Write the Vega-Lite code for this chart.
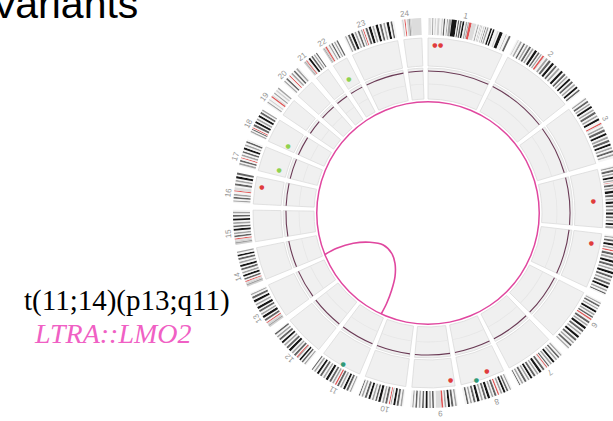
{
"$schema":"https://vega.github.io/schema/vega-lite/v6.json",
"width":613,"height":421,"autosize":{"type":"none"},"padding":0,"background":"white",
"config":{"view":{"stroke":null}},
"datasets":{
"chroms":[
{"chr":"1","s":0,"e":249,"m":124.5},{"chr":"2","s":269,"e":512,"m":390.5},{"chr":"3","s":532,"e":730,"m":631},{"chr":"4","s":750,"e":941,"m":845.5},{"chr":"5","s":961,"e":1142,"m":1051.5},{"chr":"6","s":1162,"e":1333,"m":1247.5},{"chr":"7","s":1353,"e":1512,"m":1432.5},{"chr":"8","s":1532,"e":1678,"m":1605},{"chr":"9","s":1698,"e":1839,"m":1768.5},{"chr":"10","s":1859,"e":1995,"m":1927},{"chr":"11","s":2015,"e":2150,"m":2082.5},{"chr":"12","s":2170,"e":2304,"m":2237},{"chr":"13","s":2324,"e":2439,"m":2381.5},{"chr":"14","s":2459,"e":2566,"m":2512.5},{"chr":"15","s":2586,"e":2689,"m":2637.5},{"chr":"16","s":2709,"e":2799,"m":2754},{"chr":"17","s":2819,"e":2900,"m":2859.5},{"chr":"18","s":2920,"e":2998,"m":2959},{"chr":"19","s":3018,"e":3077,"m":3047.5},{"chr":"20","s":3097,"e":3160,"m":3128.5},{"chr":"21","s":3180,"e":3228,"m":3204},{"chr":"22","s":3248,"e":3299,"m":3273.5},{"chr":"23","s":3319,"e":3474,"m":3396.5},{"chr":"24","s":3494,"e":3553,"m":3523.5}],
"dots":[
{"p":23.6,"r":168.5,"t":"SNV"},{"p":42.9,"r":168.5,"t":"SNV"},{"p":852,"r":165.7,"t":"SNV"},{"p":995,"r":166,"t":"SNV"},{"p":1584,"r":168.6,"t":"SNV"},{"p":1626,"r":173.5,"t":"Other"},{"p":1710,"r":169,"t":"SNV"},{"p":2078,"r":173,"t":"Other"},{"p":2767,"r":168,"t":"SNV"},{"p":2840,"r":155,"t":"Indel"},{"p":2934,"r":155,"t":"Indel"},{"p":3269,"r":155.3,"t":"Indel"}],
"link":[
{"i":1,"x":-103,"y":-41.5},{"i":2,"x":-91.3,"y":-35.3},{"i":3,"x":-74.7,"y":-30.3},{"i":4,"x":-58,"y":-29.3},{"i":5,"x":-44.7,"y":-32},{"i":6,"x":-36.3,"y":-40.3},{"i":7,"x":-33,"y":-50.3},{"i":8,"x":-33,"y":-63.7},{"i":9,"x":-36.3,"y":-77},{"i":10,"x":-41.3,"y":-90.3},{"i":11,"x":-46.8,"y":-101}],
"bands":[
{"c":1,"b":1,"l":2.3,"s":"w"},{"c":1,"b":2,"l":3.1,"s":"l"},{"c":1,"b":3,"l":1.8,"s":"w"},{"c":1,"b":4,"l":2,"s":"l"},{"c":1,"b":5,"l":3.5,"s":"w"},{"c":1,"b":6,"l":3.5,"s":"m"},{"c":1,"b":7,"l":4.2,"s":"w"},{"c":1,"b":8,"l":3.5,"s":"l"},{"c":1,"b":9,"l":4.1,"s":"w"},{"c":1,"b":10,"l":6.6,"s":"l"},{"c":1,"b":11,"l":5.5,"s":"w"},{"c":1,"b":12,"l":4,"s":"l"},{"c":1,"b":13,"l":2.7,"s":"w"},{"c":1,"b":14,"l":3.9,"s":"d"},{"c":1,"b":15,"l":5.4,"s":"w"},{"c":1,"b":16,"l":2.9,"s":"m"},{"c":1,"b":17,"l":2.3,"s":"w"},{"c":1,"b":18,"l":7.6,"s":"m"},{"c":1,"b":19,"l":0.8,"s":"w"},{"c":1,"b":20,"l":15.2,"s":"k"},{"c":1,"b":21,"l":3.5,"s":"w"},{"c":1,"b":22,"l":3.6,"s":"d"},{"c":1,"b":23,"l":2.7,"s":"w"},{"c":1,"b":24,"l":5,"s":"d"},{"c":1,"b":25,"l":2.5,"s":"w"},{"c":1,"b":26,"l":5,"s":"k"},{"c":1,"b":27,"l":4.6,"s":"w"},{"c":1,"b":28,"l":4.3,"s":"m"},{"c":1,"b":29,"l":1.7,"s":"w"},{"c":1,"b":30,"l":2.9,"s":"m"},{"c":1,"b":31,"l":0.8,"s":"w"},{"c":1,"b":32,"l":7.4,"s":"c"},{"c":1,"b":33,"l":13.7,"s":"v"},{"c":1,"b":34,"l":4.4,"s":"w"},{"c":1,"b":35,"l":3.3,"s":"m"},{"c":1,"b":36,"l":4.7,"s":"w"},{"c":1,"b":37,"l":1.5,"s":"m"},{"c":1,"b":38,"l":2.6,"s":"w"},{"c":1,"b":39,"l":1.4,"s":"m"},{"c":1,"b":40,"l":5,"s":"w"},{"c":1,"b":41,"l":1.7,"s":"m"},{"c":1,"b":42,"l":3.7,"s":"w"},{"c":1,"b":43,"l":2,"s":"d"},{"c":1,"b":44,"l":3.1,"s":"w"},{"c":1,"b":45,"l":4.3,"s":"m"},{"c":1,"b":46,"l":5.5,"s":"w"},{"c":1,"b":47,"l":5,"s":"k"},{"c":1,"b":48,"l":3,"s":"w"},{"c":1,"b":49,"l":4.9,"s":"k"},{"c":1,"b":50,"l":8.5,"s":"w"},{"c":1,"b":51,"l":4.3,"s":"l"},{"c":1,"b":52,"l":3,"s":"w"},{"c":1,"b":53,"l":9.6,"s":"k"},{"c":1,"b":54,"l":10.6,"s":"w"},{"c":1,"b":55,"l":1.9,"s":"m"},{"c":1,"b":56,"l":7.1,"s":"w"},{"c":1,"b":57,"l":5.3,"s":"d"},{"c":1,"b":99,"l":20,"s":"gap"},
{"c":2,"b":1,"l":4,"s":"w"},{"c":2,"b":2,"l":3,"s":"l"},{"c":2,"b":3,"l":5,"s":"w"},{"c":2,"b":4,"l":5,"s":"m"},{"c":2,"b":5,"l":6,"s":"w"},{"c":2,"b":6,"l":5,"s":"d"},{"c":2,"b":7,"l":5,"s":"w"},{"c":2,"b":8,"l":5,"s":"m"},{"c":2,"b":9,"l":4,"s":"w"},{"c":2,"b":10,"l":6,"s":"d"},{"c":2,"b":11,"l":4,"s":"w"},{"c":2,"b":12,"l":5,"s":"m"},{"c":2,"b":13,"l":5,"s":"w"},{"c":2,"b":14,"l":7,"s":"k"},{"c":2,"b":15,"l":4,"s":"w"},{"c":2,"b":16,"l":5,"s":"d"},{"c":2,"b":17,"l":4,"s":"w"},{"c":2,"b":18,"l":4,"s":"m"},{"c":2,"b":19,"l":3,"s":"w"},{"c":2,"b":20,"l":5,"s":"c"},{"c":2,"b":21,"l":3,"s":"v"},{"c":2,"b":22,"l":5,"s":"w"},{"c":2,"b":23,"l":6,"s":"m"},{"c":2,"b":24,"l":4,"s":"w"},{"c":2,"b":25,"l":7,"s":"d"},{"c":2,"b":26,"l":5,"s":"w"},{"c":2,"b":27,"l":7,"s":"k"},{"c":2,"b":28,"l":5,"s":"w"},{"c":2,"b":29,"l":6,"s":"d"},{"c":2,"b":30,"l":5,"s":"w"},{"c":2,"b":31,"l":6,"s":"m"},{"c":2,"b":32,"l":6,"s":"w"},{"c":2,"b":33,"l":7,"s":"k"},{"c":2,"b":34,"l":5,"s":"w"},{"c":2,"b":35,"l":6,"s":"d"},{"c":2,"b":36,"l":4,"s":"w"},{"c":2,"b":37,"l":5,"s":"m"},{"c":2,"b":38,"l":5,"s":"w"},{"c":2,"b":39,"l":6,"s":"k"},{"c":2,"b":40,"l":5,"s":"w"},{"c":2,"b":41,"l":6,"s":"d"},{"c":2,"b":42,"l":5,"s":"w"},{"c":2,"b":43,"l":5,"s":"m"},{"c":2,"b":44,"l":5,"s":"w"},{"c":2,"b":45,"l":6,"s":"k"},{"c":2,"b":46,"l":5,"s":"w"},{"c":2,"b":47,"l":5,"s":"d"},{"c":2,"b":48,"l":4,"s":"w"},{"c":2,"b":99,"l":20,"s":"gap"},
{"c":3,"b":1,"l":3,"s":"w"},{"c":3,"b":2,"l":4,"s":"m"},{"c":3,"b":3,"l":5,"s":"w"},{"c":3,"b":4,"l":6,"s":"d"},{"c":3,"b":5,"l":4,"s":"w"},{"c":3,"b":6,"l":5,"s":"m"},{"c":3,"b":7,"l":4,"s":"w"},{"c":3,"b":8,"l":6,"s":"k"},{"c":3,"b":9,"l":5,"s":"w"},{"c":3,"b":10,"l":5,"s":"m"},{"c":3,"b":11,"l":4,"s":"w"},{"c":3,"b":12,"l":7,"s":"d"},{"c":3,"b":13,"l":5,"s":"w"},{"c":3,"b":14,"l":5,"s":"m"},{"c":3,"b":15,"l":5,"s":"w"},{"c":3,"b":16,"l":6,"s":"k"},{"c":3,"b":17,"l":9,"s":"w"},{"c":3,"b":18,"l":4,"s":"c"},{"c":3,"b":19,"l":3,"s":"v"},{"c":3,"b":20,"l":5,"s":"w"},{"c":3,"b":21,"l":5,"s":"m"},{"c":3,"b":22,"l":4,"s":"w"},{"c":3,"b":23,"l":7,"s":"d"},{"c":3,"b":24,"l":5,"s":"w"},{"c":3,"b":25,"l":6,"s":"k"},{"c":3,"b":26,"l":5,"s":"w"},{"c":3,"b":27,"l":6,"s":"m"},{"c":3,"b":28,"l":4,"s":"w"},{"c":3,"b":29,"l":7,"s":"d"},{"c":3,"b":30,"l":5,"s":"w"},{"c":3,"b":31,"l":6,"s":"k"},{"c":3,"b":32,"l":5,"s":"w"},{"c":3,"b":33,"l":5,"s":"m"},{"c":3,"b":34,"l":5,"s":"w"},{"c":3,"b":35,"l":6,"s":"d"},{"c":3,"b":36,"l":5,"s":"w"},{"c":3,"b":37,"l":5,"s":"m"},{"c":3,"b":38,"l":7,"s":"w"},{"c":3,"b":99,"l":20,"s":"gap"},
{"c":4,"b":1,"l":4,"s":"w"},{"c":4,"b":2,"l":4,"s":"m"},{"c":4,"b":3,"l":5,"s":"w"},{"c":4,"b":4,"l":6,"s":"d"},{"c":4,"b":5,"l":4,"s":"w"},{"c":4,"b":6,"l":5,"s":"m"},{"c":4,"b":7,"l":5,"s":"w"},{"c":4,"b":8,"l":6,"s":"k"},{"c":4,"b":9,"l":4,"s":"w"},{"c":4,"b":10,"l":4,"s":"m"},{"c":4,"b":11,"l":3,"s":"w"},{"c":4,"b":12,"l":2,"s":"c"},{"c":4,"b":13,"l":4,"s":"w"},{"c":4,"b":14,"l":6,"s":"d"},{"c":4,"b":15,"l":4,"s":"w"},{"c":4,"b":16,"l":5,"s":"m"},{"c":4,"b":17,"l":4,"s":"w"},{"c":4,"b":18,"l":8,"s":"k"},{"c":4,"b":19,"l":4,"s":"w"},{"c":4,"b":20,"l":7,"s":"d"},{"c":4,"b":21,"l":5,"s":"w"},{"c":4,"b":22,"l":5,"s":"m"},{"c":4,"b":23,"l":4,"s":"w"},{"c":4,"b":24,"l":7,"s":"k"},{"c":4,"b":25,"l":5,"s":"w"},{"c":4,"b":26,"l":6,"s":"d"},{"c":4,"b":27,"l":5,"s":"w"},{"c":4,"b":28,"l":6,"s":"m"},{"c":4,"b":29,"l":5,"s":"w"},{"c":4,"b":30,"l":7,"s":"k"},{"c":4,"b":31,"l":5,"s":"w"},{"c":4,"b":32,"l":6,"s":"d"},{"c":4,"b":33,"l":5,"s":"w"},{"c":4,"b":34,"l":5,"s":"m"},{"c":4,"b":35,"l":5,"s":"w"},{"c":4,"b":36,"l":6,"s":"k"},{"c":4,"b":37,"l":4,"s":"w"},{"c":4,"b":38,"l":6,"s":"m"},{"c":4,"b":99,"l":20,"s":"gap"},
{"c":5,"b":1,"l":5,"s":"w"},{"c":5,"b":2,"l":4,"s":"m"},{"c":5,"b":3,"l":5,"s":"w"},{"c":5,"b":4,"l":6,"s":"d"},{"c":5,"b":5,"l":5,"s":"w"},{"c":5,"b":6,"l":7,"s":"k"},{"c":5,"b":7,"l":4,"s":"w"},{"c":5,"b":8,"l":5,"s":"m"},{"c":5,"b":9,"l":4,"s":"w"},{"c":5,"b":10,"l":4,"s":"c"},{"c":5,"b":11,"l":4,"s":"w"},{"c":5,"b":12,"l":7,"s":"d"},{"c":5,"b":13,"l":4,"s":"w"},{"c":5,"b":14,"l":6,"s":"m"},{"c":5,"b":15,"l":5,"s":"w"},{"c":5,"b":16,"l":7,"s":"k"},{"c":5,"b":17,"l":5,"s":"w"},{"c":5,"b":18,"l":6,"s":"d"},{"c":5,"b":19,"l":5,"s":"w"},{"c":5,"b":20,"l":5,"s":"m"},{"c":5,"b":21,"l":5,"s":"w"},{"c":5,"b":22,"l":7,"s":"k"},{"c":5,"b":23,"l":5,"s":"w"},{"c":5,"b":24,"l":6,"s":"d"},{"c":5,"b":25,"l":5,"s":"w"},{"c":5,"b":26,"l":5,"s":"m"},{"c":5,"b":27,"l":5,"s":"w"},{"c":5,"b":28,"l":6,"s":"d"},{"c":5,"b":29,"l":5,"s":"w"},{"c":5,"b":30,"l":6,"s":"k"},{"c":5,"b":31,"l":5,"s":"w"},{"c":5,"b":32,"l":5,"s":"m"},{"c":5,"b":33,"l":5,"s":"w"},{"c":5,"b":34,"l":4,"s":"d"},{"c":5,"b":35,"l":4,"s":"w"},{"c":5,"b":99,"l":20,"s":"gap"},
{"c":6,"b":1,"l":4,"s":"w"},{"c":6,"b":2,"l":4,"s":"m"},{"c":6,"b":3,"l":4,"s":"w"},{"c":6,"b":4,"l":5,"s":"d"},{"c":6,"b":5,"l":5,"s":"w"},{"c":6,"b":6,"l":4,"s":"m"},{"c":6,"b":7,"l":5,"s":"w"},{"c":6,"b":8,"l":6,"s":"k"},{"c":6,"b":9,"l":4,"s":"w"},{"c":6,"b":10,"l":5,"s":"m"},{"c":6,"b":11,"l":4,"s":"w"},{"c":6,"b":12,"l":5,"s":"d"},{"c":6,"b":13,"l":3,"s":"w"},{"c":6,"b":14,"l":4,"s":"c"},{"c":6,"b":15,"l":2,"s":"v"},{"c":6,"b":16,"l":4,"s":"w"},{"c":6,"b":17,"l":6,"s":"d"},{"c":6,"b":18,"l":4,"s":"w"},{"c":6,"b":19,"l":5,"s":"m"},{"c":6,"b":20,"l":4,"s":"w"},{"c":6,"b":21,"l":7,"s":"k"},{"c":6,"b":22,"l":5,"s":"w"},{"c":6,"b":23,"l":6,"s":"d"},{"c":6,"b":24,"l":5,"s":"w"},{"c":6,"b":25,"l":5,"s":"m"},{"c":6,"b":26,"l":5,"s":"w"},{"c":6,"b":27,"l":7,"s":"k"},{"c":6,"b":28,"l":5,"s":"w"},{"c":6,"b":29,"l":6,"s":"d"},{"c":6,"b":30,"l":5,"s":"w"},{"c":6,"b":31,"l":5,"s":"m"},{"c":6,"b":32,"l":5,"s":"w"},{"c":6,"b":33,"l":6,"s":"d"},{"c":6,"b":34,"l":5,"s":"w"},{"c":6,"b":35,"l":4,"s":"m"},{"c":6,"b":36,"l":3,"s":"w"},{"c":6,"b":99,"l":20,"s":"gap"},
{"c":7,"b":1,"l":4,"s":"w"},{"c":7,"b":2,"l":4,"s":"m"},{"c":7,"b":3,"l":5,"s":"w"},{"c":7,"b":4,"l":5,"s":"d"},{"c":7,"b":5,"l":4,"s":"w"},{"c":7,"b":6,"l":5,"s":"m"},{"c":7,"b":7,"l":5,"s":"w"},{"c":7,"b":8,"l":6,"s":"k"},{"c":7,"b":9,"l":4,"s":"w"},{"c":7,"b":10,"l":5,"s":"m"},{"c":7,"b":11,"l":5,"s":"w"},{"c":7,"b":12,"l":4,"s":"d"},{"c":7,"b":13,"l":3,"s":"w"},{"c":7,"b":14,"l":3,"s":"c"},{"c":7,"b":15,"l":2,"s":"v"},{"c":7,"b":16,"l":5,"s":"w"},{"c":7,"b":17,"l":6,"s":"d"},{"c":7,"b":18,"l":5,"s":"w"},{"c":7,"b":19,"l":7,"s":"k"},{"c":7,"b":20,"l":4,"s":"w"},{"c":7,"b":21,"l":5,"s":"m"},{"c":7,"b":22,"l":5,"s":"w"},{"c":7,"b":23,"l":6,"s":"d"},{"c":7,"b":24,"l":5,"s":"w"},{"c":7,"b":25,"l":6,"s":"k"},{"c":7,"b":26,"l":4,"s":"w"},{"c":7,"b":27,"l":5,"s":"m"},{"c":7,"b":28,"l":5,"s":"w"},{"c":7,"b":29,"l":6,"s":"d"},{"c":7,"b":30,"l":5,"s":"w"},{"c":7,"b":31,"l":5,"s":"m"},{"c":7,"b":32,"l":5,"s":"w"},{"c":7,"b":33,"l":3,"s":"d"},{"c":7,"b":34,"l":3,"s":"w"},{"c":7,"b":99,"l":20,"s":"gap"},
{"c":8,"b":1,"l":4,"s":"w"},{"c":8,"b":2,"l":4,"s":"m"},{"c":8,"b":3,"l":5,"s":"w"},{"c":8,"b":4,"l":5,"s":"d"},{"c":8,"b":5,"l":4,"s":"w"},{"c":8,"b":6,"l":6,"s":"k"},{"c":8,"b":7,"l":4,"s":"w"},{"c":8,"b":8,"l":5,"s":"m"},{"c":8,"b":9,"l":5,"s":"w"},{"c":8,"b":10,"l":4,"s":"c"},{"c":8,"b":11,"l":4,"s":"w"},{"c":8,"b":12,"l":6,"s":"d"},{"c":8,"b":13,"l":4,"s":"w"},{"c":8,"b":14,"l":5,"s":"m"},{"c":8,"b":15,"l":5,"s":"w"},{"c":8,"b":16,"l":7,"s":"k"},{"c":8,"b":17,"l":4,"s":"w"},{"c":8,"b":18,"l":6,"s":"d"},{"c":8,"b":19,"l":5,"s":"w"},{"c":8,"b":20,"l":5,"s":"m"},{"c":8,"b":21,"l":5,"s":"w"},{"c":8,"b":22,"l":7,"s":"k"},{"c":8,"b":23,"l":5,"s":"w"},{"c":8,"b":24,"l":6,"s":"d"},{"c":8,"b":25,"l":5,"s":"w"},{"c":8,"b":26,"l":5,"s":"m"},{"c":8,"b":27,"l":5,"s":"w"},{"c":8,"b":28,"l":5,"s":"d"},{"c":8,"b":29,"l":6,"s":"w"},{"c":8,"b":99,"l":20,"s":"gap"},
{"c":9,"b":1,"l":4,"s":"w"},{"c":9,"b":2,"l":5,"s":"m"},{"c":9,"b":3,"l":5,"s":"w"},{"c":9,"b":4,"l":6,"s":"d"},{"c":9,"b":5,"l":4,"s":"w"},{"c":9,"b":6,"l":6,"s":"k"},{"c":9,"b":7,"l":5,"s":"w"},{"c":9,"b":8,"l":5,"s":"m"},{"c":9,"b":9,"l":4,"s":"w"},{"c":9,"b":10,"l":5,"s":"c"},{"c":9,"b":11,"l":16,"s":"v"},{"c":9,"b":12,"l":6,"s":"w"},{"c":9,"b":13,"l":5,"s":"d"},{"c":9,"b":14,"l":4,"s":"w"},{"c":9,"b":15,"l":5,"s":"m"},{"c":9,"b":16,"l":5,"s":"w"},{"c":9,"b":17,"l":6,"s":"k"},{"c":9,"b":18,"l":5,"s":"w"},{"c":9,"b":19,"l":5,"s":"d"},{"c":9,"b":20,"l":5,"s":"w"},{"c":9,"b":21,"l":5,"s":"m"},{"c":9,"b":22,"l":5,"s":"w"},{"c":9,"b":23,"l":5,"s":"d"},{"c":9,"b":24,"l":5,"s":"w"},{"c":9,"b":25,"l":4,"s":"m"},{"c":9,"b":26,"l":6,"s":"w"},{"c":9,"b":99,"l":20,"s":"gap"},
{"c":10,"b":1,"l":4,"s":"w"},{"c":10,"b":2,"l":5,"s":"m"},{"c":10,"b":3,"l":5,"s":"w"},{"c":10,"b":4,"l":6,"s":"d"},{"c":10,"b":5,"l":4,"s":"w"},{"c":10,"b":6,"l":6,"s":"k"},{"c":10,"b":7,"l":5,"s":"w"},{"c":10,"b":8,"l":3,"s":"m"},{"c":10,"b":9,"l":2,"s":"w"},{"c":10,"b":10,"l":3,"s":"c"},{"c":10,"b":11,"l":5,"s":"w"},{"c":10,"b":12,"l":6,"s":"d"},{"c":10,"b":13,"l":4,"s":"w"},{"c":10,"b":14,"l":5,"s":"m"},{"c":10,"b":15,"l":5,"s":"w"},{"c":10,"b":16,"l":7,"s":"k"},{"c":10,"b":17,"l":4,"s":"w"},{"c":10,"b":18,"l":5,"s":"d"},{"c":10,"b":19,"l":5,"s":"w"},{"c":10,"b":20,"l":5,"s":"m"},{"c":10,"b":21,"l":5,"s":"w"},{"c":10,"b":22,"l":6,"s":"k"},{"c":10,"b":23,"l":5,"s":"w"},{"c":10,"b":24,"l":6,"s":"d"},{"c":10,"b":25,"l":5,"s":"w"},{"c":10,"b":26,"l":5,"s":"m"},{"c":10,"b":27,"l":5,"s":"w"},{"c":10,"b":28,"l":3,"s":"d"},{"c":10,"b":29,"l":2,"s":"w"},{"c":10,"b":99,"l":20,"s":"gap"},
{"c":11,"b":1,"l":3,"s":"w"},{"c":11,"b":2,"l":4,"s":"m"},{"c":11,"b":3,"l":5,"s":"w"},{"c":11,"b":4,"l":6,"s":"d"},{"c":11,"b":5,"l":4,"s":"w"},{"c":11,"b":6,"l":6,"s":"k"},{"c":11,"b":7,"l":5,"s":"w"},{"c":11,"b":8,"l":5,"s":"m"},{"c":11,"b":9,"l":4,"s":"w"},{"c":11,"b":10,"l":6,"s":"d"},{"c":11,"b":11,"l":3,"s":"w"},{"c":11,"b":12,"l":4,"s":"c"},{"c":11,"b":13,"l":4,"s":"w"},{"c":11,"b":14,"l":5,"s":"m"},{"c":11,"b":15,"l":4,"s":"w"},{"c":11,"b":16,"l":6,"s":"d"},{"c":11,"b":17,"l":5,"s":"w"},{"c":11,"b":18,"l":7,"s":"k"},{"c":11,"b":19,"l":4,"s":"w"},{"c":11,"b":20,"l":5,"s":"m"},{"c":11,"b":21,"l":5,"s":"w"},{"c":11,"b":22,"l":6,"s":"d"},{"c":11,"b":23,"l":5,"s":"w"},{"c":11,"b":24,"l":6,"s":"k"},{"c":11,"b":25,"l":5,"s":"w"},{"c":11,"b":26,"l":5,"s":"m"},{"c":11,"b":27,"l":5,"s":"w"},{"c":11,"b":28,"l":3,"s":"d"},{"c":11,"b":99,"l":20,"s":"gap"},
{"c":12,"b":1,"l":4,"s":"w"},{"c":12,"b":2,"l":4,"s":"m"},{"c":12,"b":3,"l":5,"s":"w"},{"c":12,"b":4,"l":5,"s":"d"},{"c":12,"b":5,"l":4,"s":"w"},{"c":12,"b":6,"l":5,"s":"k"},{"c":12,"b":7,"l":5,"s":"w"},{"c":12,"b":8,"l":3,"s":"m"},{"c":12,"b":9,"l":3,"s":"c"},{"c":12,"b":10,"l":4,"s":"w"},{"c":12,"b":11,"l":6,"s":"d"},{"c":12,"b":12,"l":4,"s":"w"},{"c":12,"b":13,"l":5,"s":"m"},{"c":12,"b":14,"l":5,"s":"w"},{"c":12,"b":15,"l":7,"s":"k"},{"c":12,"b":16,"l":4,"s":"w"},{"c":12,"b":17,"l":6,"s":"d"},{"c":12,"b":18,"l":5,"s":"w"},{"c":12,"b":19,"l":5,"s":"m"},{"c":12,"b":20,"l":5,"s":"w"},{"c":12,"b":21,"l":6,"s":"k"},{"c":12,"b":22,"l":5,"s":"w"},{"c":12,"b":23,"l":6,"s":"d"},{"c":12,"b":24,"l":5,"s":"w"},{"c":12,"b":25,"l":5,"s":"m"},{"c":12,"b":26,"l":5,"s":"w"},{"c":12,"b":27,"l":5,"s":"d"},{"c":12,"b":28,"l":3,"s":"w"},{"c":12,"b":99,"l":20,"s":"gap"},
{"c":13,"b":1,"l":4,"s":"l"},{"c":13,"b":2,"l":4,"s":"m"},{"c":13,"b":3,"l":4,"s":"l"},{"c":13,"b":4,"l":3,"s":"v"},{"c":13,"b":5,"l":3,"s":"c"},{"c":13,"b":6,"l":4,"s":"w"},{"c":13,"b":7,"l":6,"s":"d"},{"c":13,"b":8,"l":4,"s":"w"},{"c":13,"b":9,"l":7,"s":"k"},{"c":13,"b":10,"l":4,"s":"w"},{"c":13,"b":11,"l":5,"s":"m"},{"c":13,"b":12,"l":5,"s":"w"},{"c":13,"b":13,"l":6,"s":"d"},{"c":13,"b":14,"l":4,"s":"w"},{"c":13,"b":15,"l":7,"s":"k"},{"c":13,"b":16,"l":5,"s":"w"},{"c":13,"b":17,"l":5,"s":"m"},{"c":13,"b":18,"l":5,"s":"w"},{"c":13,"b":19,"l":7,"s":"k"},{"c":13,"b":20,"l":5,"s":"w"},{"c":13,"b":21,"l":6,"s":"d"},{"c":13,"b":22,"l":5,"s":"w"},{"c":13,"b":23,"l":4,"s":"m"},{"c":13,"b":24,"l":3,"s":"w"},{"c":13,"b":99,"l":20,"s":"gap"},
{"c":14,"b":1,"l":4,"s":"l"},{"c":14,"b":2,"l":4,"s":"m"},{"c":14,"b":3,"l":4,"s":"l"},{"c":14,"b":4,"l":3,"s":"v"},{"c":14,"b":5,"l":3,"s":"c"},{"c":14,"b":6,"l":4,"s":"w"},{"c":14,"b":7,"l":5,"s":"d"},{"c":14,"b":8,"l":4,"s":"w"},{"c":14,"b":9,"l":6,"s":"k"},{"c":14,"b":10,"l":4,"s":"w"},{"c":14,"b":11,"l":5,"s":"m"},{"c":14,"b":12,"l":5,"s":"w"},{"c":14,"b":13,"l":6,"s":"d"},{"c":14,"b":14,"l":4,"s":"w"},{"c":14,"b":15,"l":6,"s":"k"},{"c":14,"b":16,"l":5,"s":"w"},{"c":14,"b":17,"l":5,"s":"m"},{"c":14,"b":18,"l":5,"s":"w"},{"c":14,"b":19,"l":6,"s":"d"},{"c":14,"b":20,"l":5,"s":"w"},{"c":14,"b":21,"l":5,"s":"k"},{"c":14,"b":22,"l":5,"s":"w"},{"c":14,"b":23,"l":4,"s":"m"},{"c":14,"b":99,"l":20,"s":"gap"},
{"c":15,"b":1,"l":4,"s":"l"},{"c":15,"b":2,"l":4,"s":"m"},{"c":15,"b":3,"l":4,"s":"l"},{"c":15,"b":4,"l":4,"s":"v"},{"c":15,"b":5,"l":3,"s":"c"},{"c":15,"b":6,"l":4,"s":"w"},{"c":15,"b":7,"l":5,"s":"d"},{"c":15,"b":8,"l":4,"s":"w"},{"c":15,"b":9,"l":5,"s":"m"},{"c":15,"b":10,"l":5,"s":"w"},{"c":15,"b":11,"l":6,"s":"k"},{"c":15,"b":12,"l":4,"s":"w"},{"c":15,"b":13,"l":5,"s":"d"},{"c":15,"b":14,"l":5,"s":"w"},{"c":15,"b":15,"l":5,"s":"m"},{"c":15,"b":16,"l":5,"s":"w"},{"c":15,"b":17,"l":6,"s":"k"},{"c":15,"b":18,"l":5,"s":"w"},{"c":15,"b":19,"l":5,"s":"d"},{"c":15,"b":20,"l":5,"s":"w"},{"c":15,"b":21,"l":5,"s":"m"},{"c":15,"b":22,"l":5,"s":"w"},{"c":15,"b":99,"l":20,"s":"gap"},
{"c":16,"b":1,"l":4,"s":"w"},{"c":16,"b":2,"l":4,"s":"m"},{"c":16,"b":3,"l":5,"s":"w"},{"c":16,"b":4,"l":5,"s":"d"},{"c":16,"b":5,"l":4,"s":"w"},{"c":16,"b":6,"l":5,"s":"m"},{"c":16,"b":7,"l":7,"s":"w"},{"c":16,"b":8,"l":3,"s":"c"},{"c":16,"b":9,"l":10,"s":"v"},{"c":16,"b":10,"l":5,"s":"w"},{"c":16,"b":11,"l":6,"s":"d"},{"c":16,"b":12,"l":5,"s":"w"},{"c":16,"b":13,"l":5,"s":"m"},{"c":16,"b":14,"l":5,"s":"w"},{"c":16,"b":15,"l":6,"s":"k"},{"c":16,"b":16,"l":5,"s":"w"},{"c":16,"b":17,"l":6,"s":"d"},{"c":16,"b":99,"l":20,"s":"gap"},
{"c":17,"b":1,"l":4,"s":"w"},{"c":17,"b":2,"l":5,"s":"m"},{"c":17,"b":3,"l":4,"s":"w"},{"c":17,"b":4,"l":5,"s":"d"},{"c":17,"b":5,"l":5,"s":"w"},{"c":17,"b":6,"l":3,"s":"c"},{"c":17,"b":7,"l":4,"s":"w"},{"c":17,"b":8,"l":5,"s":"m"},{"c":17,"b":9,"l":5,"s":"w"},{"c":17,"b":10,"l":5,"s":"d"},{"c":17,"b":11,"l":5,"s":"w"},{"c":17,"b":12,"l":6,"s":"k"},{"c":17,"b":13,"l":5,"s":"w"},{"c":17,"b":14,"l":5,"s":"m"},{"c":17,"b":15,"l":5,"s":"w"},{"c":17,"b":16,"l":5,"s":"d"},{"c":17,"b":17,"l":5,"s":"w"},{"c":17,"b":99,"l":20,"s":"gap"},
{"c":18,"b":1,"l":3,"s":"w"},{"c":18,"b":2,"l":4,"s":"m"},{"c":18,"b":3,"l":4,"s":"w"},{"c":18,"b":4,"l":3,"s":"d"},{"c":18,"b":5,"l":2,"s":"w"},{"c":18,"b":6,"l":3,"s":"c"},{"c":18,"b":7,"l":4,"s":"w"},{"c":18,"b":8,"l":6,"s":"d"},{"c":18,"b":9,"l":4,"s":"w"},{"c":18,"b":10,"l":6,"s":"k"},{"c":18,"b":11,"l":4,"s":"w"},{"c":18,"b":12,"l":5,"s":"m"},{"c":18,"b":13,"l":5,"s":"w"},{"c":18,"b":14,"l":6,"s":"k"},{"c":18,"b":15,"l":5,"s":"w"},{"c":18,"b":16,"l":6,"s":"d"},{"c":18,"b":17,"l":4,"s":"w"},{"c":18,"b":18,"l":4,"s":"m"},{"c":18,"b":99,"l":20,"s":"gap"},
{"c":19,"b":1,"l":4,"s":"w"},{"c":19,"b":2,"l":4,"s":"m"},{"c":19,"b":3,"l":5,"s":"w"},{"c":19,"b":4,"l":4,"s":"l"},{"c":19,"b":5,"l":7,"s":"w"},{"c":19,"b":6,"l":4,"s":"c"},{"c":19,"b":7,"l":4,"s":"v"},{"c":19,"b":8,"l":5,"s":"w"},{"c":19,"b":9,"l":4,"s":"m"},{"c":19,"b":10,"l":5,"s":"w"},{"c":19,"b":11,"l":5,"s":"l"},{"c":19,"b":12,"l":4,"s":"w"},{"c":19,"b":13,"l":4,"s":"m"},{"c":19,"b":99,"l":20,"s":"gap"},
{"c":20,"b":1,"l":4,"s":"w"},{"c":20,"b":2,"l":4,"s":"m"},{"c":20,"b":3,"l":5,"s":"w"},{"c":20,"b":4,"l":5,"s":"d"},{"c":20,"b":5,"l":8,"s":"w"},{"c":20,"b":6,"l":3,"s":"c"},{"c":20,"b":7,"l":5,"s":"w"},{"c":20,"b":8,"l":5,"s":"m"},{"c":20,"b":9,"l":5,"s":"w"},{"c":20,"b":10,"l":5,"s":"d"},{"c":20,"b":11,"l":5,"s":"w"},{"c":20,"b":12,"l":5,"s":"m"},{"c":20,"b":13,"l":4,"s":"w"},{"c":20,"b":99,"l":20,"s":"gap"},
{"c":21,"b":1,"l":3,"s":"l"},{"c":21,"b":2,"l":3,"s":"m"},{"c":21,"b":3,"l":3,"s":"l"},{"c":21,"b":4,"l":3,"s":"c"},{"c":21,"b":5,"l":2,"s":"v"},{"c":21,"b":6,"l":4,"s":"w"},{"c":21,"b":7,"l":6,"s":"k"},{"c":21,"b":8,"l":4,"s":"w"},{"c":21,"b":9,"l":5,"s":"d"},{"c":21,"b":10,"l":4,"s":"w"},{"c":21,"b":11,"l":4,"s":"m"},{"c":21,"b":12,"l":4,"s":"w"},{"c":21,"b":13,"l":3,"s":"d"},{"c":21,"b":99,"l":20,"s":"gap"},
{"c":22,"b":1,"l":3,"s":"l"},{"c":22,"b":2,"l":3,"s":"m"},{"c":22,"b":3,"l":4,"s":"l"},{"c":22,"b":4,"l":4,"s":"c"},{"c":22,"b":5,"l":2,"s":"v"},{"c":22,"b":6,"l":5,"s":"w"},{"c":22,"b":7,"l":4,"s":"m"},{"c":22,"b":8,"l":5,"s":"w"},{"c":22,"b":9,"l":4,"s":"d"},{"c":22,"b":10,"l":5,"s":"w"},{"c":22,"b":11,"l":4,"s":"m"},{"c":22,"b":12,"l":4,"s":"w"},{"c":22,"b":13,"l":4,"s":"d"},{"c":22,"b":99,"l":20,"s":"gap"},
{"c":23,"b":1,"l":4,"s":"w"},{"c":23,"b":2,"l":4,"s":"m"},{"c":23,"b":3,"l":5,"s":"w"},{"c":23,"b":4,"l":6,"s":"d"},{"c":23,"b":5,"l":4,"s":"w"},{"c":23,"b":6,"l":7,"s":"k"},{"c":23,"b":7,"l":4,"s":"w"},{"c":23,"b":8,"l":5,"s":"m"},{"c":23,"b":9,"l":5,"s":"w"},{"c":23,"b":10,"l":5,"s":"d"},{"c":23,"b":11,"l":5,"s":"w"},{"c":23,"b":12,"l":4,"s":"m"},{"c":23,"b":13,"l":2,"s":"w"},{"c":23,"b":14,"l":3,"s":"c"},{"c":23,"b":15,"l":5,"s":"w"},{"c":23,"b":16,"l":6,"s":"d"},{"c":23,"b":17,"l":4,"s":"w"},{"c":23,"b":18,"l":7,"s":"k"},{"c":23,"b":19,"l":4,"s":"w"},{"c":23,"b":20,"l":5,"s":"m"},{"c":23,"b":21,"l":5,"s":"w"},{"c":23,"b":22,"l":7,"s":"k"},{"c":23,"b":23,"l":5,"s":"w"},{"c":23,"b":24,"l":6,"s":"d"},{"c":23,"b":25,"l":5,"s":"w"},{"c":23,"b":26,"l":5,"s":"m"},{"c":23,"b":27,"l":5,"s":"w"},{"c":23,"b":28,"l":7,"s":"k"},{"c":23,"b":29,"l":5,"s":"w"},{"c":23,"b":30,"l":5,"s":"d"},{"c":23,"b":31,"l":6,"s":"w"},{"c":23,"b":99,"l":20,"s":"gap"},
{"c":24,"b":1,"l":3,"s":"w"},{"c":24,"b":2,"l":4,"s":"l"},{"c":24,"b":3,"l":3,"s":"w"},{"c":24,"b":4,"l":3,"s":"c"},{"c":24,"b":5,"l":4,"s":"w"},{"c":24,"b":6,"l":5,"s":"l"},{"c":24,"b":7,"l":4,"s":"m"},{"c":24,"b":8,"l":4,"s":"l"},{"c":24,"b":9,"l":29,"s":"v"},{"c":24,"b":99,"l":20,"s":"gap"}
]},
"layer":[
{"data":{"name":"chroms"},
 "mark":{"type":"arc","fill":"#f0f0f0","stroke":"#dadada","strokeWidth":0.8,"x":{"expr":"scale('x',0)"},"y":{"expr":"scale('y',0)"}},
 "encoding":{"theta":{"field":"s","type":"quantitative","scale":{"domain":[0,3573],"range":[0,6.283185307179586]}},"theta2":{"field":"e"},
  "radius":{"datum":147,"type":"quantitative","scale":{"type":"linear","domain":[0,200],"range":[0,200],"zero":true,"nice":false}},"radius2":{"datum":175}}},
{"data":{"name":"chroms"},
 "mark":{"type":"arc","fill":"#f0f0f0","stroke":"#dadada","strokeWidth":0.8,"x":{"expr":"scale('x',0)"},"y":{"expr":"scale('y',0)"}},
 "encoding":{"theta":{"field":"s","type":"quantitative","scale":{"domain":[0,3573],"range":[0,6.283185307179586]}},"theta2":{"field":"e"},
  "radius":{"datum":114,"type":"quantitative","scale":{"type":"linear","domain":[0,200],"range":[0,200],"zero":true,"nice":false}},"radius2":{"datum":145}}},
{"data":{"name":"chroms"},
 "mark":{"type":"arc","fill":"#e6e6e6","x":{"expr":"scale('x',0)"},"y":{"expr":"scale('y',0)"}},
 "encoding":{"theta":{"field":"s","type":"quantitative","scale":{"domain":[0,3573],"range":[0,6.283185307179586]}},"theta2":{"field":"e"},
  "radius":{"datum":128.6,"type":"quantitative","scale":{"type":"linear","domain":[0,200],"range":[0,200],"zero":true,"nice":false}},"radius2":{"datum":129.4}}},
{"data":{"name":"chroms"},
 "mark":{"type":"arc","fill":"#6a3a55","x":{"expr":"scale('x',0)"},"y":{"expr":"scale('y',0)"}},
 "encoding":{"theta":{"field":"s","type":"quantitative","scale":{"domain":[0,3573],"range":[0,6.283185307179586]}},"theta2":{"field":"e"},
  "radius":{"datum":141.5,"type":"quantitative","scale":{"type":"linear","domain":[0,200],"range":[0,200],"zero":true,"nice":false}},"radius2":{"datum":142.6}}},
{"data":{"name":"bands"},
 "transform":[{"stack":"l","groupby":[],"sort":[{"field":"c"},{"field":"b"}],"as":["t0","t1"]},{"filter":"datum.s !== 'gap'"}],
 "mark":{"type":"arc","x":{"expr":"scale('x',0)"},"y":{"expr":"scale('y',0)"}},
 "encoding":{"theta":{"field":"t0","type":"quantitative","scale":{"domain":[0,3573],"range":[0,6.283185307179586]}},"theta2":{"field":"t1"},
  "radius":{"datum":178,"type":"quantitative","scale":{"type":"linear","domain":[0,200],"range":[0,200],"zero":true,"nice":false}},"radius2":{"datum":195},
  "color":{"field":"s","type":"nominal","scale":{"domain":["w","l","m","d","k","c","v"],"range":["#f4f4f4","#d2d2d2","#a3a3a3","#636363","#161616","#e05555","#dcdcdc"]},"legend":null}}},
{"data":{"name":"chroms"},
 "mark":{"type":"text","fontSize":8,"fill":"#949494","font":"Liberation Sans","align":"center","baseline":"alphabetic","dx":-6,"x":{"expr":"scale('x',0)"},"y":{"expr":"scale('y',0)"}},
 "encoding":{"theta":{"field":"m","type":"quantitative","scale":{"domain":[0,3573],"range":[0,6.283185307179586]}},
  "radius":{"datum":198,"type":"quantitative","scale":{"type":"linear","domain":[0,200],"range":[0,200],"zero":true,"nice":false}},
  "angle":{"field":"m","type":"quantitative","scale":{"domain":[0,3573],"range":[0,360]},"legend":null},
  "text":{"field":"chr","type":"nominal"}}},
{"data":{"name":"dots"},
 "mark":{"type":"text","text":"●","fontSize":6,"font":"DejaVu Sans","align":"center","baseline":"middle","x":{"expr":"scale('x',0)"},"y":{"expr":"scale('y',0)"}},
 "encoding":{"theta":{"field":"p","type":"quantitative","scale":{"domain":[0,3573],"range":[0,6.283185307179586]}},
  "radius":{"field":"r","type":"quantitative","scale":{"type":"linear","domain":[0,200],"range":[0,200],"zero":true,"nice":false}},
  "color":{"field":"t","type":"nominal","scale":{"domain":["SNV","Indel","Other"],"range":["#e03c3c","#8fd24f","#2f9a78"]},"legend":null}}},
{"data":{"values":[{"k":"link"}]},
 "mark":{"type":"arc","fill":"#e0479f","x":{"expr":"scale('x',0)"},"y":{"expr":"scale('y',0)"}},
 "encoding":{"theta":{"datum":0,"type":"quantitative","scale":{"domain":[0,3573],"range":[0,6.283185307179586]}},"theta2":{"datum":3573},
  "radius":{"datum":110.5,"type":"quantitative","scale":{"type":"linear","domain":[0,200],"range":[0,200],"zero":true,"nice":false}},"radius2":{"datum":112}}},
{"data":{"name":"link"},
 "mark":{"type":"line","stroke":"#e0479f","strokeWidth":1.6,"interpolate":"catmull-rom"},
 "encoding":{"x":{"field":"x","type":"quantitative","scale":{"domain":[-428,185],"nice":false,"zero":false},"axis":null},
  "y":{"field":"y","type":"quantitative","scale":{"domain":[-208,213],"nice":false,"zero":false},"axis":null},
  "order":{"field":"i","type":"quantitative"}}},
{"data":{"values":[{"label":"Variants"}]},
 "mark":{"type":"text","font":"Liberation Sans","fontSize":41,"fill":"#000000","align":"left","baseline":"alphabetic"},
 "encoding":{"x":{"datum":-437,"type":"quantitative","scale":{"domain":[-428,185],"nice":false,"zero":false},"axis":null},
  "y":{"datum":195.5,"type":"quantitative","scale":{"domain":[-208,213],"nice":false,"zero":false},"axis":null},"text":{"field":"label"}}},
{"data":{"values":[{"label":"t(11;14)(p13;q11)"}]},
 "mark":{"type":"text","font":"Liberation Serif","fontSize":29,"fill":"#000000","align":"left","baseline":"alphabetic"},
 "encoding":{"x":{"datum":-404,"type":"quantitative","scale":{"domain":[-428,185],"nice":false,"zero":false},"axis":null},
  "y":{"datum":-97,"type":"quantitative","scale":{"domain":[-208,213],"nice":false,"zero":false},"axis":null},"text":{"field":"label"}}},
{"data":{"values":[{"label":"LTRA::LMO2"}]},
 "mark":{"type":"text","font":"Liberation Serif","fontStyle":"italic","fontSize":28,"fill":"#f060c4","align":"left","baseline":"alphabetic"},
 "encoding":{"x":{"datum":-393,"type":"quantitative","scale":{"domain":[-428,185],"nice":false,"zero":false},"axis":null},
  "y":{"datum":-130,"type":"quantitative","scale":{"domain":[-208,213],"nice":false,"zero":false},"axis":null},"text":{"field":"label"}}}
],
"resolve":{"scale":{"color":"independent"}}
}
